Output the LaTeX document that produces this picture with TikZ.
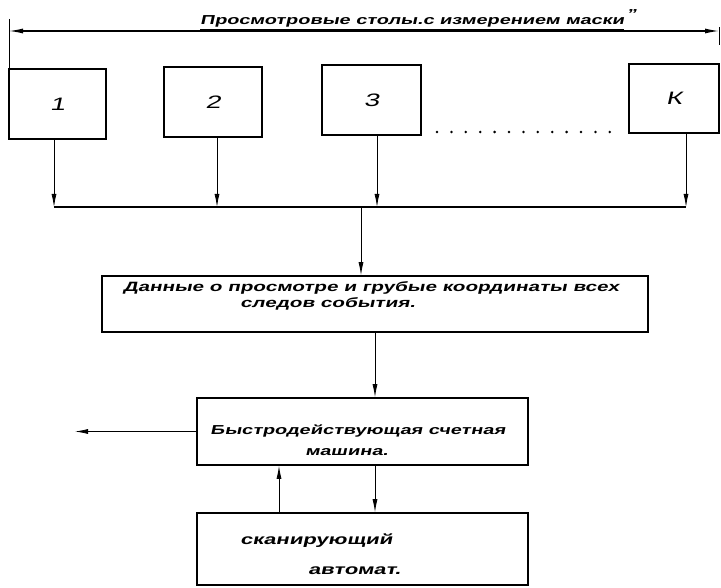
\documentclass[tikz,border=0pt]{standalone}
\usepackage{fontspec}
\setmainfont{Liberation Sans}
\newfontfamily\hand[FakeStretch=1.53,FakeSlant=0.22]{Liberation Sans}
\usetikzlibrary{arrows.meta,calc}
\begin{document}
\begin{tikzpicture}[x=1pt,y=-1pt,
  box/.style={draw,line width=1.6pt,inner sep=0pt},
  num/.style={font=\hand\fontsize{18}{18}\selectfont},
  txt/.style={anchor=base west,inner sep=0pt,font=\hand\bfseries\fontsize{13}{13}\selectfont},
  conn/.style={line width=0.8pt},
  arr/.style={line width=0.8pt,-{Latex[length=13pt,width=5pt]}},
  dimarr/.style={line width=1.2pt,{Latex[length=14pt,width=5pt]}-{Latex[length=14pt,width=5pt]}}]
\useasboundingbox (0,0) rectangle (721,588);
% title and dimension line
\coordinate (dl) at (9,31);
\coordinate (dr) at (719,31);
\coordinate (el) at (9,19);
\coordinate (er) at (719,27);
\coordinate (er2) at (719,45);
\node[txt] (title) at (200,25) {\underline{Просмотровые столы.с измерением маски}\rlap{\,\raisebox{1ex}{\textquotedblright}}};
\draw[dimarr] (dl) -- (dr);
% top boxes
\node[box,num,minimum width=97pt,minimum height=70pt] (b1) at (57.5,104) {1};
\node[box,num,minimum width=98pt,minimum height=70pt] (b2) at (213,102) {2};
\node[box,num,minimum width=99pt,minimum height=70pt] (b3) at (371.5,100) {3};
\node[box,num,minimum width=90pt,minimum height=69pt] (bK) at (674,98.5) {К};
\draw[conn] (el) -- (el |- b1.north);
\draw[conn] (er) -- (er2);
% dots
\foreach \i in {0,...,12} {\fill (437+14.4*\i,132) circle (1.4pt);}
% bus
\coordinate (j1) at (54,207);
\coordinate (j2) at (217,207);
\coordinate (j3) at (377,207);
\coordinate (jK) at (686,207);
\coordinate (jm) at (361,207);
\draw[arr] (b1.south -| j1) -- (j1);
\draw[arr] (b2.south -| j2) -- (j2);
\draw[arr] (b3.south -| j3) -- (j3);
\draw[arr] (bK.south -| jK) -- (jK);
\draw[line width=1.3pt] (j1) -- (jK);
% data box
\node[box,minimum width=546pt,minimum height=56pt] (dat) at (375,304) {};
\node[txt,font=\hand\bfseries\fontsize{13.5}{13.5}\selectfont] (dat1) at (123,292) {Данные о просмотре и грубые координаты всех};
\node[txt,font=\hand\bfseries\fontsize{13.5}{13.5}\selectfont] (dat2) at (240,308) {следов события.};
\draw[arr] (jm) -- (jm |- dat.north);
% computer
\node[box,minimum width=331pt,minimum height=67pt] (fast) at (362.5,431.5) {};
\node[txt] (fast1) at (210,434) {Быстродействующая счетная};
\node[txt] (fast2) at (305,455) {машина.};
\draw[arr] (dat.south) -- (fast.north -| dat.south);
\coordinate (out) at (75,431.5);
\draw[arr] (fast.west) -- (out);
% scanner
\node[box,minimum width=331pt,minimum height=72pt] (scan) at (362.5,549) {};
\node[txt,font=\hand\bfseries\fontsize{14.4}{14.4}\selectfont] (scan1) at (240,544) {сканирующий};
\node[txt,font=\hand\bfseries\fontsize{14.4}{14.4}\selectfont] (scan2) at (308,574) {автомат.};
\coordinate (u) at (279,0);
\draw[arr] (fast.south -| dat.south) -- (scan.north -| dat.south);
\draw[arr] (scan.north -| u) -- (fast.south -| u);
\end{tikzpicture}
\end{document}
